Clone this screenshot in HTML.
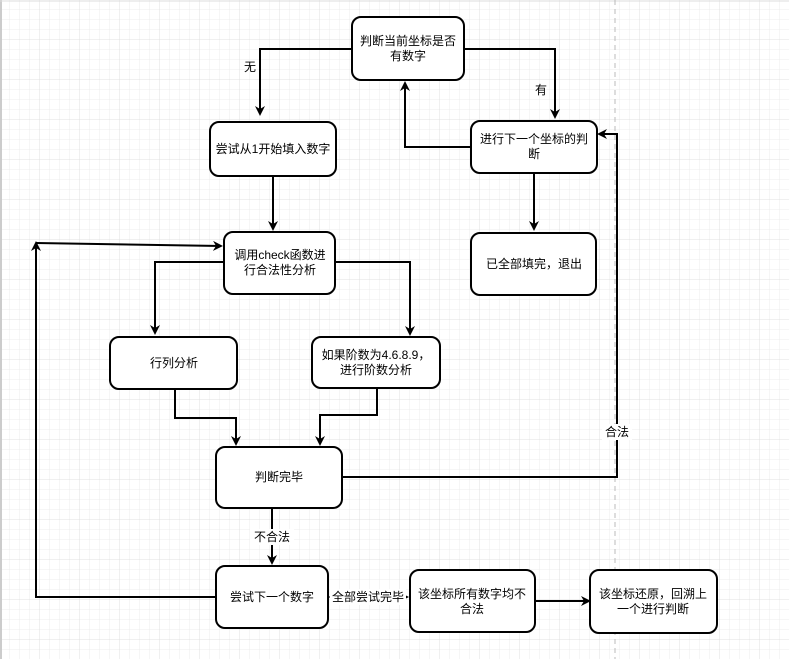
<!DOCTYPE html>
<html><head><meta charset="utf-8"><style>
body{margin:0;width:789px;height:659px;overflow:hidden;background:#fff;}
svg{display:block;}
text{font-family:"Liberation Sans","Noto Sans CJK SC",sans-serif;font-size:12px;fill:#000;}
</style></head><body>
<svg width="789" height="659" xmlns="http://www.w3.org/2000/svg">
<defs>
<pattern id="g" width="10" height="10" patternUnits="userSpaceOnUse"><path d="M10 0V10H0" fill="none" stroke="#ececec" stroke-width="1"/></pattern>
<pattern id="G" width="40" height="40" patternUnits="userSpaceOnUse"><rect width="40" height="40" fill="url(#g)"/><path d="M40 0V40H0" fill="none" stroke="#e0e0e0" stroke-width="1"/></pattern>
<marker id="a" markerWidth="10" markerHeight="10" refX="8" refY="5" orient="auto" markerUnits="userSpaceOnUse"><path d="M0,0 L10,5 L0,10 L3,5z" fill="#000"/></marker>
<marker id="s" markerWidth="6" markerHeight="6" refX="5" refY="3" orient="auto" markerUnits="userSpaceOnUse"><path d="M0,0 L6,3 L0,6z" fill="#000"/></marker>
</defs>
<rect x="0" y="0" width="789" height="659" fill="url(#G)"/>
<line x1="1" y1="0" x2="1" y2="659" stroke="#ccc" stroke-width="2"/>
<line x1="0" y1="1" x2="789" y2="1" stroke="#ddd" stroke-width="1"/>
<line x1="615" y1="0" x2="615" y2="659" stroke="#bbb" stroke-dasharray="5,4"/>
<g fill="none" stroke="#000" stroke-width="2">
<polyline points="352,49 260,49 260,114" marker-end="url(#a)"/>
<polyline points="464,49 555,49 555,117" marker-end="url(#a)"/>
<polyline points="471,147 405,147 405,83" marker-end="url(#a)"/>
<polyline points="273,176 273,229" marker-end="url(#a)"/>
<polyline points="224,262 155,262 155,333" marker-end="url(#a)"/>
<polyline points="335,262 410,262 410,334" marker-end="url(#a)"/>
<polyline points="175,389 175,418 236,418 236,444" marker-end="url(#a)"/>
<polyline points="377,388 377,415 320,415 320,444" marker-end="url(#a)"/>
<polyline points="342,477 617,477 617,134 599,134" marker-end="url(#a)"/>
<polyline points="534,173 534,229" marker-end="url(#a)"/>
<polyline points="272,508 272,563" marker-end="url(#a)"/>
<polyline points="216,597 36,597 36,243" marker-end="url(#a)"/>
<polyline points="36,243 221,246" marker-end="url(#a)"/>
<polyline points="535,601 589,601" marker-end="url(#a)"/>
</g>
<line x1="328" y1="597" x2="408" y2="597" stroke="#000" stroke-width="1" marker-end="url(#s)"/>
<g fill="#fff" stroke="#000" stroke-width="2">
<rect x="352" y="17" width="112" height="63" rx="9"/>
<rect x="210" y="122" width="126" height="54" rx="9"/>
<rect x="224" y="232" width="111" height="62" rx="9"/>
<rect x="471" y="121" width="126" height="52" rx="9"/>
<rect x="471" y="233" width="125" height="62" rx="9"/>
<rect x="110" y="337" width="127" height="52" rx="9"/>
<rect x="312" y="337" width="128" height="51" rx="9"/>
<rect x="216" y="447" width="126" height="61" rx="9"/>
<rect x="216" y="566" width="112" height="62" rx="9"/>
<rect x="410" y="570" width="125" height="62" rx="9"/>
<rect x="590" y="570" width="127" height="63" rx="9"/>
</g>
<g text-anchor="middle">
<text x="408" y="45">判断当前坐标是否</text><text x="408" y="60">有数字</text>
<text x="273" y="153">尝试从1开始填入数字</text>
<text x="280" y="259">调用check函数进</text><text x="280" y="274">行合法性分析</text>
<text x="534" y="143">进行下一个坐标的判</text><text x="534" y="158">断</text>
<text x="534" y="268">已全部填完，退出</text>
<text x="174" y="367">行列分析</text>
<text x="376" y="359">如果阶数为4.6.8.9，</text><text x="376" y="374">进行阶数分析</text>
<text x="279" y="481">判断完毕</text>
<text x="272" y="601">尝试下一个数字</text>
<text x="472" y="598">该坐标所有数字均不</text><text x="472" y="613">合法</text>
<text x="653" y="598">该坐标还原，回溯上</text><text x="653" y="613">一个进行判断</text>
<text x="250" y="71">无</text>
<text x="541" y="94">有</text>
<rect x="602" y="424" width="30" height="16" fill="#fff"/>
<text x="617" y="436">合法</text>
<rect x="250" y="529" width="44" height="16" fill="#fff"/>
<text x="272" y="541">不合法</text>
<rect x="330" y="589" width="76" height="16" fill="#fff"/>
<text x="368" y="601">全部尝试完毕</text>
</g>
</svg>
</body></html>
